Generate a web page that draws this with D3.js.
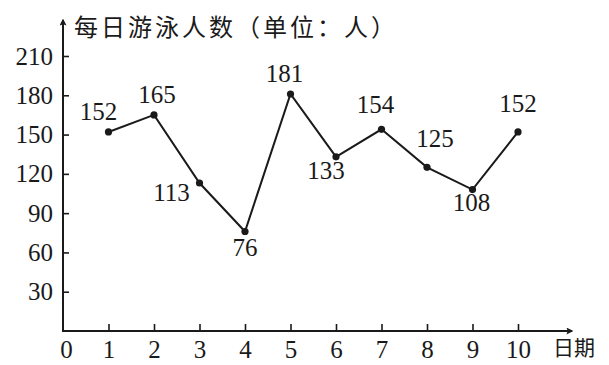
<!DOCTYPE html>
<html>
<head>
<meta charset="utf-8">
<script src="https://cdn.jsdelivr.net/npm/d3@7"></script>
<style>
  body { margin: 0; background: #fff; }
  svg text { fill: #1a1a1a; }
</style>
</head>
<body>
<div id="chart"></div>
<script>
// data
var days = [1, 2, 3, 4, 5, 6, 7, 8, 9, 10];
var swimmers = [152, 165, 113, 76, 181, 133, 154, 125, 108, 152];
var yTicks = [30, 60, 90, 120, 150, 180, 210];
var xTicks = [0, 1, 2, 3, 4, 5, 6, 7, 8, 9, 10];
var yTitle = "每日游泳人数（单位：人）";
var xTitle = "日期";

// where each value label sits relative to its point (layout only)
var labelShift = [[-10, -12], [3, -12], [-28, 18], [0, 25], [-6, -12],
                  [-10, 22], [-6, -16], [8, -20], [-1, 21], [0, -20]];

var width = 609, height = 365;
var serif = "'Liberation Serif', 'DejaVu Serif', serif";
var cjk = "'Noto Sans CJK SC', sans-serif";

var svg = d3.select("#chart").append("svg")
    .attr("width", width)
    .attr("height", height);

var x = d3.scaleLinear().domain([0, 10]).range([63, 518]);
var y = d3.scaleLinear().domain([0, 210]).range([331, 56]);

// axes
var yAxis = svg.append("g")
    .attr("transform", "translate(" + x(0) + ",0)")
    .call(d3.axisLeft(y).tickValues(yTicks).tickSize(-6).tickPadding(10));
var xAxis = svg.append("g")
    .attr("transform", "translate(0," + y(0) + ")")
    .call(d3.axisBottom(x).tickValues(xTicks).tickSize(-7).tickPadding(9));

[yAxis, xAxis].forEach(function(g) {
  g.select(".domain").remove();
  g.selectAll("line").attr("stroke", "#1a1a1a").attr("stroke-width", 1.6);
  g.selectAll("text")
    .style("font-family", serif)
    .style("font-size", "25px")
    .attr("fill", "#1a1a1a");
});
xAxis.selectAll(".tick").filter(function(d) { return d === 0; })
    .select("line").remove();
xAxis.selectAll(".tick").filter(function(d) { return d === 0; })
    .select("text").attr("x", 3);

// arrowed axis lines
var defs = svg.append("defs");
defs.append("marker")
    .attr("id", "arrow")
    .attr("viewBox", "0 0 10 10")
    .attr("refX", 8).attr("refY", 5)
    .attr("markerWidth", 7).attr("markerHeight", 7)
    .attr("markerUnits", "userSpaceOnUse")
    .attr("orient", "auto")
    .append("path")
    .attr("d", "M0,0 L10,5 L0,10 L2,5 Z")
    .attr("fill", "#1a1a1a");

svg.append("line")
    .attr("x1", x(0)).attr("y1", y(0) + 1)
    .attr("x2", x(0)).attr("y2", 20)
    .attr("stroke", "#1a1a1a").attr("stroke-width", 2)
    .attr("marker-end", "url(#arrow)");
svg.append("line")
    .attr("x1", x(0) - 1).attr("y1", y(0))
    .attr("x2", 572).attr("y2", y(0))
    .attr("stroke", "#1a1a1a").attr("stroke-width", 2)
    .attr("marker-end", "url(#arrow)");

// titles
svg.append("text")
    .attr("x", 74).attr("y", 36)
    .style("font-family", cjk)
    .style("font-size", "24px")
    .style("letter-spacing", "3px")
    .text(yTitle);
svg.append("text")
    .attr("x", 553).attr("y", 355)
    .style("font-family", cjk)
    .style("font-size", "21px")
    .text(xTitle);

// line and points
var rows = days.map(function(d, i) { return { day: d, value: swimmers[i], shift: labelShift[i] }; });

var line = d3.line()
    .x(function(d) { return x(d.day); })
    .y(function(d) { return y(d.value); });

svg.append("path")
    .datum(rows)
    .attr("d", line)
    .attr("fill", "none")
    .attr("stroke", "#1a1a1a")
    .attr("stroke-width", 2);

svg.selectAll("circle.pt")
    .data(rows)
    .enter().append("circle")
    .attr("class", "pt")
    .attr("cx", function(d) { return x(d.day); })
    .attr("cy", function(d) { return y(d.value); })
    .attr("r", 3.6)
    .attr("fill", "#1a1a1a");

svg.selectAll("text.val")
    .data(rows)
    .enter().append("text")
    .attr("class", "val")
    .attr("x", function(d) { return x(d.day) + d.shift[0]; })
    .attr("y", function(d) { return y(d.value) + d.shift[1]; })
    .attr("text-anchor", "middle")
    .style("font-family", serif)
    .style("font-size", "25px")
    .text(function(d) { return d.value; });
</script>
</body>
</html>
